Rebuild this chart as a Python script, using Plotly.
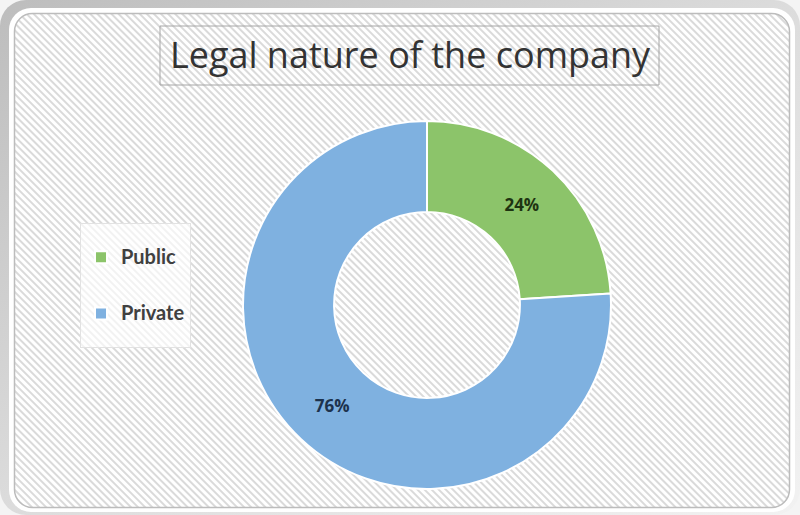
import base64
import plotly.graph_objects as go

# Survey result: legal nature of the responding companies (percent)
categories = ["Public", "Private"]
shares = [24, 76]

slice_colors = ["#8cc46a", "#7fb1e0"]
label_colors = ["#1e3311", "#1c324d"]

W, H = 800, 515

# Card frame with a diagonal hatch fill, rendered as an SVG background image
frame_svg = f"""<svg xmlns='http://www.w3.org/2000/svg' width='{W}' height='{H}' viewBox='0 0 {W} {H}'>
<defs>
  <pattern id='hatch' width='5' height='5' patternUnits='userSpaceOnUse' patternTransform='rotate(45)'>
    <rect width='5' height='5' fill='#ffffff'/>
    <rect width='5' height='2' fill='#dadada'/>
  </pattern>
  <linearGradient id='shade' x1='0' y1='0' x2='1' y2='1'>
    <stop offset='0' stop-color='#bdbdbd'/>
    <stop offset='0.5' stop-color='#dcdcdc'/>
    <stop offset='1' stop-color='#f2f2f2'/>
  </linearGradient>
</defs>
<rect width='{W}' height='{H}' fill='#f4f4f4'/>
<rect x='0' y='0' width='{W}' height='{H}' rx='26' fill='url(#shade)'/>
<rect x='9' y='8' width='{W-14}' height='{H-11}' rx='22' fill='#ffffff'/>
<rect x='14.5' y='13.5' width='{W-25}' height='{H-21}' rx='18' fill='url(#hatch)' stroke='#bcbcbc' stroke-width='1.5'/>
</svg>"""
frame_uri = "data:image/svg+xml;base64," + base64.b64encode(frame_svg.encode()).decode()

# Legend entries get a tall line box so they spread out vertically
legend_labels = [
    f"<span style='font-size:20px;baseline-shift:9px'><b>{c}</b></span>" for c in categories
]

fig = go.Figure(
    go.Pie(
        labels=legend_labels,
        values=shares,
        hole=0.505,
        sort=False,
        direction="clockwise",
        rotation=0,
        textinfo="percent",
        textposition="inside",
        insidetextorientation="horizontal",
        textfont=dict(family="Open Sans", size=17, color=label_colors, weight="bold"),
        marker=dict(colors=slice_colors, line=dict(color="#ffffff", width=2)),
        domain=dict(x=[(427 - 184) / W, (427 + 184) / W], y=[1 - 489 / H, 1 - 121 / H]),
        hoverinfo="skip",
    )
)

fig.update_layout(
    width=W,
    height=H,
    margin=dict(l=0, r=0, t=0, b=0),
    paper_bgcolor="#ffffff",
    plot_bgcolor="rgba(0,0,0,0)",
    title=dict(
        text="Legal nature of the company",
        x=410 / W,
        xanchor="center",
        y=1 - 55 / H,
        yanchor="middle",
        font=dict(family="Open Sans", size=36, color="#333333"),
    ),
    legend=dict(
        x=80 / W,
        xanchor="left",
        y=1 - 223 / H,
        yanchor="top",
        font=dict(family="Lato", size=41, color="#404040"),
        bgcolor="rgba(255,255,255,0.65)",
        bordercolor="#e2e2e2",
        borderwidth=1,
    ),
    images=[
        dict(
            source=frame_uri,
            xref="paper",
            yref="paper",
            x=0,
            y=1,
            sizex=1,
            sizey=1,
            xanchor="left",
            yanchor="top",
            sizing="stretch",
            layer="below",
        )
    ],
    shapes=[
        dict(
            type="rect",
            xref="paper",
            yref="paper",
            x0=160 / W,
            x1=659 / W,
            y0=1 - 85 / H,
            y1=1 - 26 / H,
            line=dict(color="#a6a6a6", width=1),
            fillcolor="rgba(0,0,0,0)",
        )
    ],
)

fig.write_html("out.html")
